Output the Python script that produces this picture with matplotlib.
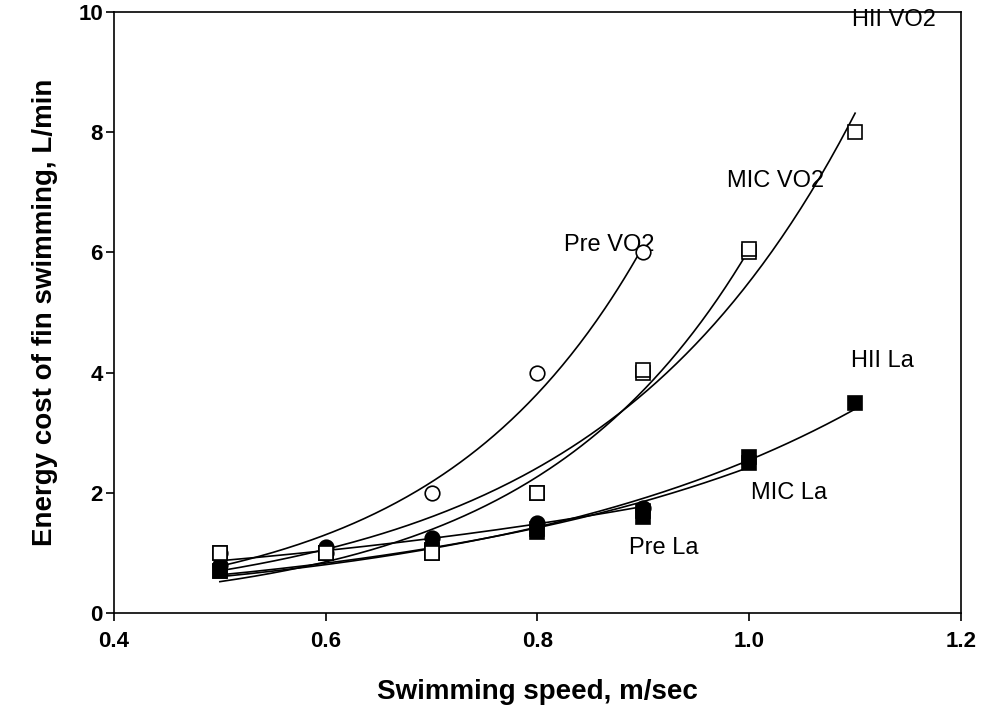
import numpy as np
import matplotlib
matplotlib.use("Agg")
import matplotlib.pyplot as plt

plt.rcParams['font.family'] = ['Liberation Sans', 'DejaVu Sans']

# ---- data ----
speed_pre = [0.5, 0.6, 0.7, 0.8, 0.9]
pre_vo2 = [1.0, 1.0, 2.0, 4.0, 6.0]
pre_la = [0.8, 1.1, 1.25, 1.5, 1.75]

speed_mic = [0.5, 0.6, 0.7, 0.8, 0.9, 1.0]
mic_vo2 = [1.0, 1.0, 1.0, 2.0, 4.0, 6.0]
mic_la = [0.7, 1.0, 1.05, 1.35, 1.6, 2.6]

speed_hii = [0.5, 0.6, 0.7, 0.8, 0.9, 1.0, 1.1]
hii_vo2 = [1.0, 1.0, 1.0, 2.0, 4.05, 6.05, 8.0]
hii_la = [0.7, 1.0, 1.05, 1.4, 1.7, 2.5, 3.5]

x_ticks = [0.4, 0.6, 0.8, 1.0, 1.2]
x_tick_labels = ['0.4', '0.6', '0.8', '1.0', '1.2']
y_ticks = [0, 2, 4, 6, 8, 10]


def exp_fit(x, y):
    """Least-squares fit of y = a*exp(b*x) (Gauss-Newton)."""
    x = np.asarray(x, float)
    y = np.asarray(y, float)
    b, lna = np.polyfit(x, np.log(y), 1)
    a = np.exp(lna)
    for _ in range(200):
        e = np.exp(b * x)
        r = y - a * e
        J = np.column_stack([e, a * x * e])
        step, *_ = np.linalg.lstsq(J, r, rcond=None)
        a += step[0]
        b += step[1]
        if np.all(np.abs(step) < 1e-12):
            break
    return a, b


fig = plt.figure(figsize=(9.81, 7.15), dpi=100)
ax = fig.add_axes([0.1162, 0.1427, 0.8634, 0.8405])

series = [
    (speed_pre, pre_vo2, 'o', 'white'),
    (speed_mic, mic_vo2, 's', 'white'),
    (speed_hii, hii_vo2, 's', 'white'),
    (speed_pre, pre_la, 'o', 'black'),
    (speed_mic, mic_la, 's', 'black'),
    (speed_hii, hii_la, 's', 'black'),
]

for xs, ys, m, fc in series:
    a, b = exp_fit(xs, ys)
    xx = np.linspace(min(xs), max(xs), 200)
    ax.plot(xx, a * np.exp(b * xx), color='black', lw=1.2, zorder=2)

for xs, ys, m, fc in series:
    z = 4 if fc == 'white' else 3
    ax.plot(xs, ys, linestyle='none', marker=m, markersize=10.5 if m == 'o' else 9.5,
            markerfacecolor=fc, markeredgecolor='black', markeredgewidth=1.2, zorder=z)

labels = [
    ('Pre VO2', 0.8255, 6.12),
    ('MIC VO2', 0.979, 7.19),
    ('HII VO2', 1.097, 9.87),
    ('HII La', 1.096, 4.19),
    ('MIC La', 1.002, 2.0),
    ('Pre La', 0.886, 1.08),
]
for t, x, y in labels:
    ax.text(x, y, t, fontsize=17, ha='left', va='center')

ax.set_xlim(0.4, 1.2)
ax.set_ylim(0, 10)
ax.set_xticks(x_ticks)
ax.set_xticklabels(x_tick_labels)
ax.set_yticks(y_ticks)
ax.tick_params(direction='out', length=6, width=1.2, top=False, right=False,
               labelsize=16)
ax.tick_params(axis='x', pad=7)
ax.tick_params(axis='y', pad=2)
for lab in ax.get_xticklabels() + ax.get_yticklabels():
    lab.set_fontweight('bold')
for s in ax.spines.values():
    s.set_linewidth(1.2)

ax.set_xlabel('Swimming speed, m/sec', fontsize=20, fontweight='bold')
ax.set_ylabel('Energy cost of fin swimming, L/min', fontsize=20, fontweight='bold')
ax.xaxis.set_label_coords(0.5, -0.11)
ax.yaxis.set_label_coords(-0.066, 0.5)

fig.savefig('out.png', dpi=100)
